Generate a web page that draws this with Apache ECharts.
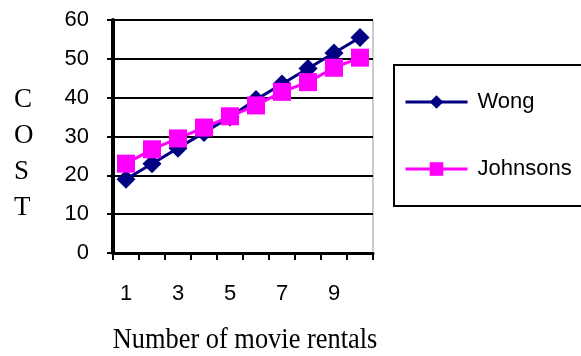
<!DOCTYPE html>
<html>
<head>
<meta charset="utf-8">
<script src="https://cdn.jsdelivr.net/npm/echarts@6/dist/echarts.min.js"></script>
<style>html,body{margin:0;padding:0;background:#fff}#c{width:581px;height:356px}</style>
</head>
<body>
<div id="c"></div>
<script>
var categories = ['1','2','3','4','5','6','7','8','9','10'];
var wong = [19, 23, 27, 31, 35, 39.5, 43.5, 47.5, 51.5, 55.5];
var johnsons = [23, 26.7, 29.5, 32.3, 35.2, 38, 41.5, 44, 47.7, 50.3];
var yTicks = {min: 0, max: 60, interval: 10};
var xTitle = 'Number of movie rentals';
var yTitle = 'C\nO\nS\nT';

var chart = echarts.init(document.getElementById('c'));
chart.setOption({
  animation: false,
  backgroundColor: '#fff',
  grid: {left: 113, top: 20, right: 208, bottom: 103, show: true, borderColor: '#999', borderWidth: 1},
  legend: {
    orient: 'vertical', left: 394, top: 65,
    padding: [26, 60, 26, 10],
    itemGap: 45, itemWidth: 62, itemHeight: 17,
    borderColor: '#000', borderWidth: 2,
    lineStyle: {width: 3},
    textStyle: {fontFamily: 'Liberation Sans', fontSize: 22, color: '#000', padding: [0, 0, 0, 5]},
    data: ['Wong', 'Johnsons']
  },
  graphic: [{
    type: 'text', left: 14, top: 82,
    style: {text: yTitle, font: '27px "Liberation Serif"', lineHeight: 36, fill: '#000', align: 'center'}
  }, {
    type: 'text', x: 245, y: 340, scaleX: 0.88,
    style: {text: xTitle, font: '30px "Liberation Serif"', fill: '#000', align: 'center', verticalAlign: 'middle'}
  }],
  xAxis: {
    type: 'category', data: categories, boundaryGap: true,
    axisLine: {lineStyle: {color: '#000', width: 3}},
    axisTick: {show: true, alignWithLabel: false, interval: 0, length: 7, lineStyle: {color: '#000', width: 2}},
    axisLabel: {interval: 1, margin: 30, fontFamily: 'Liberation Sans', fontSize: 22, color: '#000'},
    splitLine: {show: false}
  },
  yAxis: {
    type: 'value', min: yTicks.min, max: yTicks.max, interval: yTicks.interval,
    axisLine: {show: true, lineStyle: {color: '#000', width: 4}},
    axisTick: {show: true, length: 6, lineStyle: {color: '#000', width: 2}},
    axisLabel: {margin: 24, fontFamily: 'Liberation Sans', fontSize: 22, color: '#000'},
    splitLine: {show: true, lineStyle: {color: '#000', width: 2}}
  },
  series: [
    {name: 'Wong', type: 'line', data: wong, symbol: 'diamond', symbolSize: 19,
     showSymbol: true, showAllSymbol: true,
     lineStyle: {color: '#000080', width: 3}, itemStyle: {color: '#000080'}},
    {name: 'Johnsons', type: 'line', data: johnsons, symbol: 'rect', symbolSize: 18,
     showSymbol: true, showAllSymbol: true,
     lineStyle: {color: '#FF00FF', width: 3}, itemStyle: {color: '#FF00FF'}}
  ]
});
</script>
</body>
</html>
